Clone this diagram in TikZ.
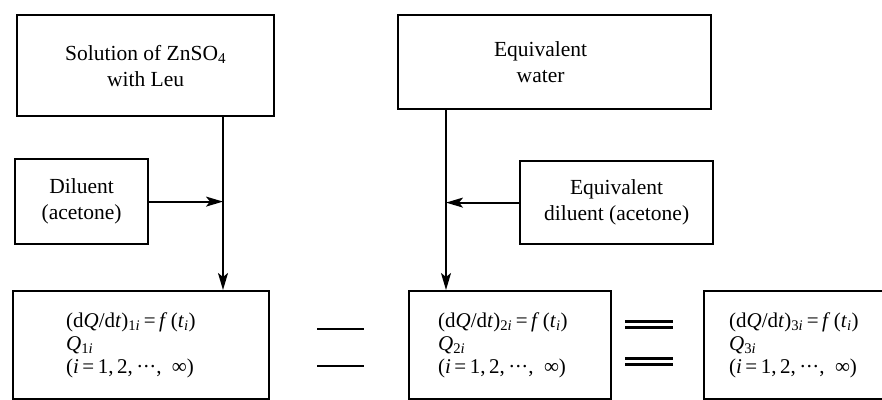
\documentclass[tikz,border=0pt]{standalone}
\usepackage{fontspec}
\setmainfont{Liberation Serif}
\usetikzlibrary{arrows.meta}
\newcommand{\mdots}{\textperiodcentered\kern-0.5pt\textperiodcentered\kern-0.5pt\textperiodcentered}
\newcommand{\reslines}[1]{\mbox{(d\textit{Q}/d\textit{t})\textsubscript{#1\textit{i}}\,=\,\textit{f}\,(\textit{t}\textsubscript{\textit{i}})}\\
   \mbox{\textit{Q}\textsubscript{#1\textit{i}}}\\
   \mbox{(\textit{i}\,=\,1,\,2,\,\mdots,\, ∞)}}
\begin{document}
\begin{tikzpicture}[x=1pt,y=-1pt,
  box/.style={draw, line width=2.2pt, anchor=north west, inner sep=0pt, align=center, font=\fontsize{21.5}{26}\selectfont},
  res/.style={draw, line width=2.2pt, anchor=north west, inner ysep=0pt, align=left, minimum height=108pt, font=\fontsize{21}{23}\selectfont},
  arr/.style={line width=1.8pt, -{Stealth[length=17pt,width=10pt,inset=4pt]}},
  bar/.style={line width=2.2pt},
  dbar/.style={line width=3pt}]
\useasboundingbox (0,0) rectangle (882,399);
% top boxes
\node[box, minimum width=257pt, minimum height=101pt] (b1) at (16,14) {Solution of ZnSO\textsubscript{4}\\with Leu};
\node[box, minimum width=313pt, minimum height=94pt] (b2) at (397,14) {Equivalent\hspace*{28pt}\\water\hspace*{28pt}};
% diluent boxes
\node[box, minimum width=133pt, minimum height=85pt] (d1) at (14,158) {Diluent\\(acetone)};
\node[box, minimum width=193pt, minimum height=83pt] (d2) at (519,160) {Equivalent\\diluent (acetone)};
% result boxes
\node[res, inner xsep=53pt, text width=150pt] (r1) at (12,290) {\reslines{1}};
\node[res, inner xsep=29pt, text width=144pt] (r2) at (408,290) {\reslines{2}};
\node[res, inner xsep=25pt, text width=142pt] (r3) at (703,290) {\reslines{3}};
% junction columns
\coordinate (c1) at (223,0);
\coordinate (c2) at (446,0);
% connectors
\draw[arr] (b1.south -| c1) -- (r1.north -| c1);
\draw[arr] (d1.east) -- (d1.east -| c1);
\draw[arr] (b2.south -| c2) -- (r2.north -| c2);
\draw[arr] (d2.west) -- (d2.west -| c2);
% equality marks
\draw[bar] (317,329) -- (364,329);
\draw[bar] (317,366) -- (364,366);
\draw[dbar] (625,321.5) -- (673,321.5);
\draw[dbar] (625,327) -- (673,327);
\draw[dbar] (625,358) -- (673,358);
\draw[dbar] (625,364) -- (673,364);
\end{tikzpicture}
\end{document}
